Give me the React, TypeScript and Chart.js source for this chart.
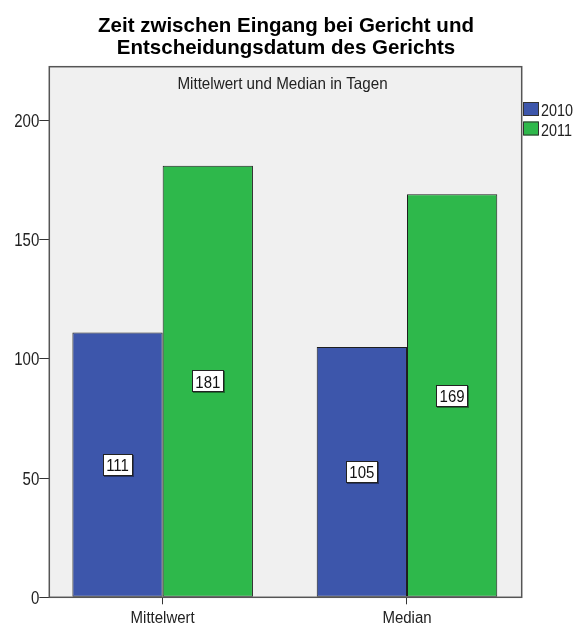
import React, { useEffect, useRef } from 'react';
import { Chart, registerables } from 'chart.js';

Chart.register(...registerables);

const TITLE_LINES = ['Zeit zwischen Eingang bei Gericht und', 'Entscheidungsdatum des Gerichts'];
const SUBTITLE = 'Mittelwert und Median in Tagen';
const CATEGORIES = ['Mittelwert', 'Median'];
const SERIES_LABELS = ['2010', '2011'];
const VALUES_2010 = [111, 105];
const VALUES_2011 = [181, 169];
const Y_TICKS = [0, 50, 100, 150, 200];
const Y_MAX = 222.5;
const COLORS = ['#3d56ab', '#2eb84b'];

const SANS = '"Liberation Sans", Arial, sans-serif';

function stretchedText(
  ctx: CanvasRenderingContext2D,
  text: string,
  x: number,
  baseline: number,
  size: number,
  sy: number,
  align: CanvasTextAlign,
  color: string,
  weight = 'normal'
) {
  ctx.save();
  ctx.font = `${weight} ${size}px ${SANS}`;
  ctx.textAlign = align;
  ctx.textBaseline = 'alphabetic';
  ctx.fillStyle = color;
  ctx.translate(x, baseline);
  ctx.scale(1, sy);
  ctx.fillText(text, 0, 0);
  ctx.restore();
}

const decorPlugin = {
  id: 'decor',
  beforeDraw(chart: any) {
    const { ctx, chartArea: a } = chart;
    ctx.save();
    ctx.fillStyle = '#ffffff';
    ctx.fillRect(0, 0, chart.width, chart.height);
    ctx.fillStyle = '#f0f0f0';
    ctx.fillRect(a.left, a.top, a.right - a.left, a.bottom - a.top);
    ctx.restore();
  },
  afterDatasetsDraw(chart: any) {
    const { ctx, chartArea: a } = chart;
    ctx.save();
    // frame
    ctx.strokeStyle = '#555555';
    ctx.lineWidth = 1.5;
    ctx.strokeRect(a.left, a.top, a.right - a.left, a.bottom - a.top);

    // axis tick labels (positions from the scales)
    const ys = chart.scales.y;
    ys.ticks.forEach((t: any) => {
      const py = ys.getPixelForValue(t.value);
      stretchedText(ctx, String(t.value), a.left - 10, py + 6.5, 15, 1.17, 'right', '#222222');
    });
    const xs = chart.scales.x;
    xs.ticks.forEach((t: any) => {
      const px = xs.getPixelForValue(t.value);
      stretchedText(ctx, CATEGORIES[t.value], px, 623, 15, 1.15, 'center', '#222222');
    });

    // value labels
    chart.data.datasets.forEach((ds: any, di: number) => {
      const meta = chart.getDatasetMeta(di);
      meta.data.forEach((el: any, i: number) => {
        const txt = String(ds.data[i].y);
        const cx = el.x;
        const cy = (el.y + el.base) / 2;
        ctx.font = `15px ${SANS}`;
        const w = Math.round(ctx.measureText(txt).width + 7);
        const h = 22;
        const bx = Math.round(cx - w / 2);
        const by = Math.round(cy - h / 2);
        ctx.fillStyle = 'rgba(0,0,0,0.4)';
        ctx.fillRect(bx + 1, by + 1, w, h);
        ctx.fillStyle = '#ffffff';
        ctx.fillRect(bx, by, w, h);
        ctx.strokeStyle = '#222222';
        ctx.lineWidth = 1;
        ctx.strokeRect(bx + 0.5, by + 0.5, w - 1, h - 1);
        stretchedText(ctx, txt, cx, cy + 6.6, 15, 1.08, 'center', '#111111');
      });
    });

    // title
    stretchedText(ctx, TITLE_LINES[0], 286, 32, 20.5, 1.0, 'center', '#000000', 'bold');
    stretchedText(ctx, TITLE_LINES[1], 286, 54, 20.5, 1.0, 'center', '#000000', 'bold');

    // subtitle
    stretchedText(ctx, SUBTITLE, 282.5, 89.3, 15.2, 1.1, 'center', '#222222');

    // legend
    chart.data.datasets.forEach((ds: any, di: number) => {
      const y = 102 + di * 19.5;
      ctx.fillStyle = ds.backgroundColor;
      ctx.fillRect(523.5, y, 15, 14);
      ctx.strokeStyle = '#333333';
      ctx.lineWidth = 1;
      ctx.strokeRect(523.5, y + 0.5, 15, 13);
      stretchedText(ctx, ds.label, 541, y + 14, 14.4, 1.2, 'left', '#222222');
    });
    ctx.restore();
  },
};

export default function App() {
  const ref = useRef<HTMLCanvasElement>(null);

  useEffect(() => {
    document.body.style.margin = '0';
    if (!ref.current) return;
    const chart = new Chart(ref.current, {
      type: 'bar',
      data: {
        datasets: [
          {
            label: SERIES_LABELS[0],
            data: VALUES_2010.map((y, i) => ({ x: i, y })),
            backgroundColor: COLORS[0],
            borderColor: '#1e1e1e',
            borderWidth: 1,
            borderSkipped: false,
          },
          {
            label: SERIES_LABELS[1],
            data: VALUES_2011.map((y, i) => ({ x: i, y })),
            backgroundColor: COLORS[1],
            borderColor: '#1e1e1e',
            borderWidth: 1,
            borderSkipped: false,
          },
        ],
      },
      options: {
        animation: false,
        responsive: true,
        maintainAspectRatio: false,
        layout: { padding: { top: 66.7, right: 52.3, left: 0, bottom: 0 } },
        datasets: { bar: { categoryPercentage: 0.739, barPercentage: 1 } },
        plugins: {
          legend: { display: false },
          title: { display: false },
          tooltip: { enabled: false },
        },
        scales: {
          x: {
            type: 'linear',
            offset: false,
            min: -0.464,
            max: 1.4695,
            afterBuildTicks: (scale: any) => {
              scale.ticks = CATEGORIES.map((_, i) => ({ value: i }));
            },
            afterFit: (scale: any) => {
              scale.height = 27.7;
            },
            grid: {
              display: true,
              offset: false,
              drawOnChartArea: false,
              drawTicks: true,
              tickLength: 7,
              tickColor: '#333333',
              tickWidth: 1,
            },
            border: { display: false },
            ticks: { display: false, autoSkip: false, maxRotation: 0 },
          },
          y: {
            type: 'linear',
            min: 0,
            max: Y_MAX,
            afterBuildTicks: (scale: any) => {
              scale.ticks = Y_TICKS.map((v) => ({ value: v }));
            },
            afterFit: (scale: any) => {
              scale.width = 49.3;
            },
            grid: {
              display: true,
              drawOnChartArea: false,
              drawTicks: true,
              tickLength: 10,
              tickColor: '#333333',
              tickWidth: 1,
            },
            border: { display: false },
            ticks: { display: false },
          },
        },
      },
      plugins: [decorPlugin],
    } as any);
    return () => chart.destroy();
  }, []);

  return (
    <div style={{ position: 'relative', width: 574, height: 625 }}>
      <canvas ref={ref} />
    </div>
  );
}
